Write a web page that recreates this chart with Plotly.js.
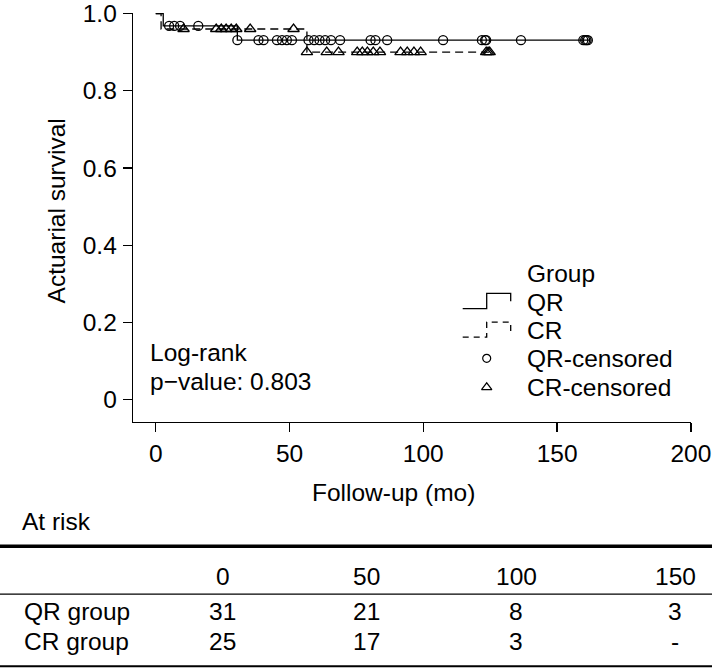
<!DOCTYPE html>
<html>
<head>
<meta charset="utf-8">
<script src="https://cdn.plot.ly/plotly-3.0.1.min.js"></script>
<style>html,body{margin:0;padding:0;background:#fff;}#chart{width:712px;height:669px;}</style>
</head>
<body>
<div id="chart"></div>
<script>
// ---- data ----
const qrStepTimes = [0, 2.8, 30.5];
const qrStepSurv  = [1.0, 0.968, 0.931];
const qrEnd = 162;
const crStepTimes = [0, 2.0, 56.5];
const crStepSurv  = [1.0, 0.96, 0.90];
const crEnd = 125;
const qrCensored = [5.0, 6.9, 9.1, 15.9, 30.5, 38.4, 40.3, 45.3, 47.2, 49.0, 50.9, 57.1, 59.2, 61.2, 63.3, 65.5, 68.9, 80.3, 82.1, 86.5, 107.4, 121.9, 123.1, 123.5, 136.5, 159.8, 160.5, 161.0, 161.5];
const crCensored = [10.4, 22.6, 24.5, 26.3, 28.2, 30.1, 35.3, 51.5, 56.5, 63.9, 68.3, 75.3, 77.2, 79.1, 81.3, 83.8, 91.5, 94.0, 96.5, 99.0, 123.5, 124.2, 124.8];
const riskTimes = ['0', '50', '100', '150'];
const qrAtRisk = ['31', '21', '8', '3'];
const crAtRisk = ['25', '17', '3', '-'];
const groupNames = ['QR group', 'CR group'];
const xTicks = [0, 50, 100, 150, 200];
const yTicks = [0, 0.2, 0.4, 0.6, 0.8, 1.0];
const yTickText = ['0', '0.2', '0.4', '0.6', '0.8', '1.0'];
const pValue = '0.803';

// ---- helpers ----
function survAt(times, surv, t) {
  let s = surv[0];
  for (let i = 0; i < times.length; i++) if (t >= times[i]) s = surv[i];
  return s;
}
const FONT = 'Liberation Sans, Arial, Helvetica, sans-serif';
const FS = 24.5;
const L = 133, R = 691, T = 12.5, B = 421.7;
const px = x => (x - L) / (R - L);
const py = y => (B - y) / (B - T);
const LW = 1.3;

const traces = [
  {x: qrStepTimes.concat([qrEnd]), y: qrStepSurv.concat([qrStepSurv[qrStepSurv.length-1]]),
   mode: 'lines', line: {shape: 'hv', color: '#000', width: LW}, cliponaxis: false, showlegend: false, hoverinfo: 'skip'},
  {x: crStepTimes.concat([crEnd]), y: crStepSurv.concat([crStepSurv[crStepSurv.length-1]]),
   mode: 'lines', line: {shape: 'hv', color: '#000', width: LW, dash: '8px,5px'}, cliponaxis: false, showlegend: false, hoverinfo: 'skip'},
  {x: qrCensored, y: qrCensored.map(t => survAt(qrStepTimes, qrStepSurv, t)), mode: 'markers',
   marker: {symbol: 'circle-open', size: 9, color: '#000', line: {width: 1.3, color: '#000'}}, cliponaxis: false, showlegend: false},
  {x: crCensored, y: crCensored.map(t => survAt(crStepTimes, crStepSurv, t)), mode: 'markers',
   marker: {symbol: 'triangle-up-open', size: 10, color: '#000', line: {width: 1.3, color: '#000'}}, cliponaxis: false, showlegend: false}
];

const ann = [];
const shapes = [];
function txt(text, x, y, anchor, extra) {
  ann.push(Object.assign({text: text, xref: 'paper', yref: 'paper', x: px(x), y: py(y), xanchor: anchor, yanchor: 'middle',
    showarrow: false, font: {family: FONT, size: FS, color: '#000'}}, extra || {}));
}
function line(x0, y0, x1, y1, w, dash) {
  shapes.push({type: 'line', xref: 'paper', yref: 'paper', x0: px(x0), y0: py(y0), x1: px(x1), y1: py(y1),
    line: {color: '#000', width: w, dash: dash || 'solid'}});
}
function path(pts, w, dash) {
  let d = '';
  pts.forEach((p, i) => { d += (i ? ' L' : 'M') + px(p[0]).toFixed(5) + ',' + py(p[1]).toFixed(5); });
  shapes.push({type: 'path', xref: 'paper', yref: 'paper', path: d, line: {color: '#000', width: w, dash: dash || 'solid'}});
}

// axis titles
txt('Actuarial survival', 56, 211, 'center', {textangle: -90});
txt('Follow-up (mo)', 393, 492, 'center');
// log-rank
txt('Log-rank', 148, 352, 'left');
txt('p\u2212value: ' + pValue, 148, 381, 'left');
// legend
txt('Group', 525, 273, 'left');
txt('QR', 525, 302, 'left');
txt('CR', 525, 330, 'left');
txt('QR-censored', 525, 358, 'left');
txt('CR-censored', 525, 387, 'left');
path([[462.7, 308.3], [486.7, 308.3], [486.7, 293], [510.7, 293], [510.7, 301]], LW);
path([[462.7, 336.7], [486.7, 336.7], [486.7, 321.7], [510.7, 321.7], [510.7, 331]], LW, '6px,5px');
traces.push({x: [px(486.7)], y: [py(358)], xaxis: 'x2', yaxis: 'y2', mode: 'markers', showlegend: false, hoverinfo: 'skip', cliponaxis: false,
  marker: {symbol: 'circle-open', size: 8, color: '#000', line: {width: 1.2, color: '#000'}}});
traces.push({x: [px(486.7)], y: [py(387)], xaxis: 'x2', yaxis: 'y2', mode: 'markers', showlegend: false, hoverinfo: 'skip', cliponaxis: false,
  marker: {symbol: 'triangle-up-open', size: 9, color: '#000', line: {width: 1.2, color: '#000'}}});

// at risk table
txt('At risk', 20, 521, 'left');
line(0, 546, 712, 546, 3.5);
const colX = [222.7, 366, 516, 675];
riskTimes.forEach((t, i) => txt(t, colX[i], 576, 'center'));
line(0, 594, 712, 594, 1.3);
txt(groupNames[0], 22, 611, 'left');
txt(groupNames[1], 22, 641, 'left');
qrAtRisk.forEach((v, i) => txt(v, colX[i], 611, 'center'));
crAtRisk.forEach((v, i) => txt(v, colX[i], 641, 'center'));
line(0, 666, 712, 666, 2);

const layout = {
  width: 712, height: 669,
  margin: {l: L, r: 712 - R, t: T, b: 669 - B, pad: 0},
  paper_bgcolor: '#fff', plot_bgcolor: '#fff',
  font: {family: FONT, size: FS, color: '#000'},
  xaxis: {range: [-8.5, 200.05], tickvals: xTicks, ticktext: xTicks.map(String), showgrid: false, zeroline: false,
    showline: true, linecolor: '#000', linewidth: LW, ticks: 'outside', ticklen: 9, tickwidth: LW, tickcolor: '#000',
    tickfont: {family: FONT, size: FS, color: '#000'}, ticklabeloverflow: 'allow'},
  yaxis: {range: [-0.0577, 1.0015], tickvals: yTicks, ticktext: yTickText, showgrid: false, zeroline: false,
    showline: true, linecolor: '#000', linewidth: LW, ticks: 'outside', ticklen: 9, tickwidth: LW, tickcolor: '#000',
    tickfont: {family: FONT, size: FS, color: '#000'}, ticklabelstandoff: 1, ticklabeloverflow: 'allow'},
  xaxis2: {range: [0, 1], overlaying: 'x', visible: false, fixedrange: true},
  yaxis2: {range: [0, 1], overlaying: 'y', visible: false, fixedrange: true},
  annotations: ann, shapes: shapes, showlegend: false
};
Plotly.newPlot('chart', traces, layout, {staticPlot: true, displayModeBar: false});
</script>
</body>
</html>
